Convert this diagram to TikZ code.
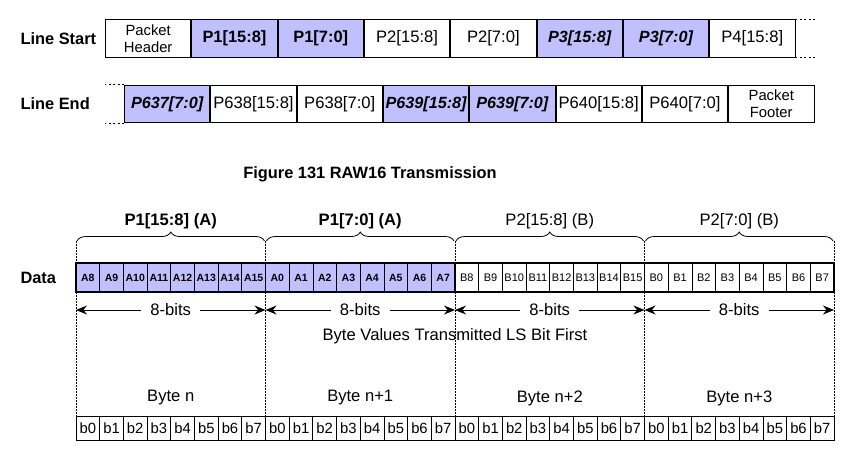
\documentclass[tikz,border=0pt]{standalone}
\usepackage{fontspec}
\setmainfont{Liberation Sans}
\usetikzlibrary{positioning,arrows.meta,decorations.pathreplacing}
\definecolor{cellfill}{RGB}{192,192,255}

\begin{document}
\begin{tikzpicture}[x=1pt,y=-1pt,
  font=\fontsize{16.6}{18}\selectfont,
  cell/.style={draw,line width=0.9pt,minimum width=85.4pt,minimum height=37.5pt,
               inner sep=0pt,align=center},
  hdrcell/.style={cell,font=\fontsize{14.8}{16.8}\selectfont},
  hicell/.style={cell,fill=cellfill,font=\fontsize{16.4}{18}\selectfont\bfseries},
  hiitcell/.style={cell,fill=cellfill,font=\fontsize{16.2}{18}\selectfont\bfseries\itshape},
  bitB/.style={draw,line width=0.7pt,minimum width=23.69pt,minimum height=29pt,
               inner sep=0pt,font=\fontsize{11}{12}\selectfont},
  bitA/.style={bitB,fill=cellfill,font=\fontsize{10.5}{12}\selectfont\bfseries},
  bytebox/.style={draw,line width=1.8pt,minimum width=189.5pt,minimum height=29pt,inner sep=0pt},
  bitcell/.style={draw,line width=0.8pt,minimum width=23.69pt,minimum height=24pt,
                  inner sep=0pt,font=\fontsize{14.8}{16}\selectfont},
  dotline/.style={line width=1.2pt,dash pattern=on 2pt off 2.5pt},
  vdot/.style={line width=0.7pt,dash pattern=on 1.5pt off 1.5pt},
  brc/.style={line width=0.8pt,decorate,decoration={brace,amplitude=9pt}},
  ar/.style={{Stealth[length=11pt,width=9pt]}-{Stealth[length=11pt,width=9pt]},line width=0.9pt},
  lbl/.style={font=\fontsize{16.4}{18}\selectfont\bfseries,anchor=west}
]
\useasboundingbox (0,0) rectangle (862,456);

% line start / line end
\node[lbl] (startlbl) at (17,38.5) {Line Start};
\node[lbl] (endlbl) at (17,104) {Line End};
\coordinate (ls0) at (105,38.5);
\coordinate (le0) at (124,104);
\foreach \txt/\sty [count=\i, remember=\i as \j (initially 0)] in
  {{Packet\\Header}/hdrcell,{P1[15:8]}/hicell,{P1[7:0]}/hicell,{P2[15:8]}/cell,
   {P2[7:0]}/cell,{P3[15:8]}/hiitcell,{P3[7:0]}/hiitcell,{P4[15:8]}/cell}
  \node[\sty,right=0pt of ls\j] (ls\i) {\txt};
\foreach \txt/\sty [count=\i, remember=\i as \j (initially 0)] in
  {{P637[7:0]}/hiitcell,{P638[15:8]}/cell,{P638[7:0]}/cell,{P639[15:8]}/hiitcell,
   {P639[7:0]}/hiitcell,{P640[15:8]}/cell,{P640[7:0]}/cell,{Packet\\Footer}/hdrcell}
  \node[\sty,right=0pt of le\j] (le\i) {\txt};
\draw[dotline] (ls8.north east) -- ++(20,0);
\draw[dotline] (ls8.south east) -- ++(20,0);
\draw[dotline] (le1.north west) -- ++(-19,0);
\draw[dotline] (le1.south west) -- ++(-19,0);

\node[font=\fontsize{16.4}{18}\selectfont\bfseries] (caption) at (370,174)
  {Figure 131 RAW16 Transmission};

% byte boundaries
\foreach \k in {0,...,4} {
  \coordinate (top\k) at ({76+189.5*\k},241);
  \coordinate (bot\k) at ({76+189.5*\k},416);
  \coordinate (ay\k) at ({76+189.5*\k},310);
  \draw[vdot] (top\k) -- (bot\k);
}

\node[lbl] (datalbl) at (17,277.5) {Data};
\foreach \hi/\lo/\grp/\sty [count=\k from 0] in {8/15/A/bitA,0/7/A/bitA,8/15/B/bitB,0/7/B/bitB} {
  \foreach \n [count=\m from 0] in {\hi,...,\lo}
    \node[\sty] (d\k-\m) at ({76+189.5*\k+23.69*(\m+0.5)},277.5) {\grp\n};
  \foreach \m in {0,...,7}
    \node[bitcell] (b\k-\m) at ({76+189.5*\k+23.69*(\m+0.5)},428) {b\m};
  \node[bytebox] (byte\k) at ({76+189.5*(\k+0.5)},277.5) {};
}

% braces and labels
\foreach \txt/\wt [count=\k from 0, remember=\k as \kk] in
  {{P1[15:8] (A)}/\bfseries,{P1[7:0] (A)}/\bfseries,{P2[15:8] (B)}/,{P2[7:0] (B)}/} {
  \pgfmathtruncatemacro\nx{\k+1}
  \draw[brc] ([xshift=1pt]top\k) -- ([xshift=-1pt]top\nx);
  \node[font=\fontsize{16.6}{18}\selectfont\wt] (grp\k) at ({76+189.5*(\k+0.5)},221) {\txt};
}

% 8-bits arrows
\foreach \k [count=\nx] in {0,...,3}
  \draw[ar] (ay\k) -- node[fill=white,inner xsep=9pt,inner ysep=1pt] {8-bits} (ay\nx);

\node (order) at (455,336) {Byte Values Transmitted LS Bit First};
\foreach \txt [count=\k from 0] in {Byte n,Byte n+1,Byte n+2,Byte n+3}
  \node (bytelbl\k) at ({76+189.5*(\k+0.5)},398) {\txt};
\end{tikzpicture}
\end{document}
